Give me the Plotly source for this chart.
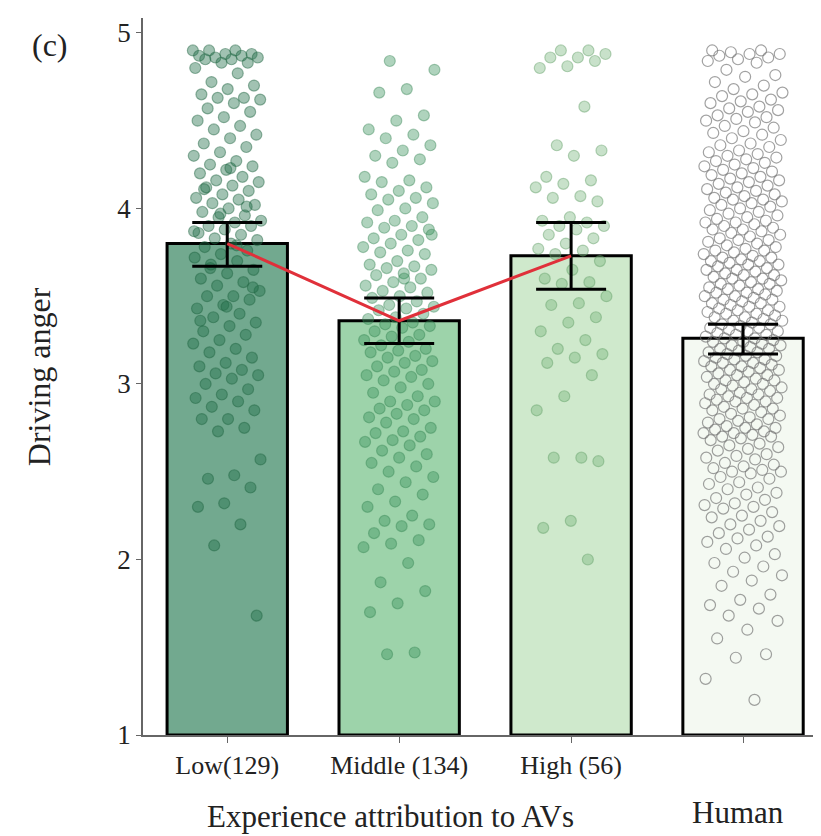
import numpy as np
import plotly.graph_objects as go

# ---------------- data ----------------
categories = ["Low(129)", "Middle (134)", "High (56)", ""]
means = [3.80, 3.36, 3.73, 3.26]
ci_low = [3.67, 3.23, 3.54, 3.17]
ci_high = [3.92, 3.49, 3.92, 3.34]

low_pts = [4.9, 4.9, 4.9, 4.88, 4.88, 4.87, 4.87, 4.86, 4.86, 4.85, 4.85, 4.83, 4.83, 4.8,
           4.77, 4.72, 4.7, 4.68, 4.65, 4.63, 4.63, 4.62, 4.6, 4.57, 4.55, 4.52, 4.5,
           4.47, 4.45, 4.42, 4.4, 4.37, 4.35, 4.32, 4.3, 4.27, 4.25, 4.24, 4.22, 4.2,
           4.18, 4.16, 4.15, 4.13, 4.12, 4.1, 4.08, 4.06, 4.05, 4.03, 4.02, 4.0,
           3.98, 3.96, 3.95, 3.93, 3.92, 3.9, 3.9, 3.88, 3.86, 3.85, 3.83, 3.82, 3.8,
           3.78, 3.76, 3.74, 3.72, 3.7, 3.68, 3.65, 3.63, 3.6, 3.58, 3.56, 3.53, 3.5, 3.5,
           3.48, 3.45, 3.43, 3.4, 3.38, 3.35, 3.33, 3.3, 3.28, 3.25, 3.23, 3.2,
           3.18, 3.15, 3.12, 3.1, 3.08, 3.06, 3.05, 3.03, 3.0, 2.97, 2.94, 2.92, 2.9,
           2.87, 2.85, 2.8, 2.8, 2.75, 2.73, 2.57, 2.48, 2.46, 2.41, 2.32, 2.3,
           2.2, 2.08, 1.68,
           4.23, 4.11, 4.01, 3.97, 3.87, 3.79, 3.66, 3.55, 3.44, 3.36]

middle_pts = [4.84, 4.79, 4.68, 4.66, 4.53, 4.5, 4.45, 4.42, 4.4, 4.36, 4.33, 4.3, 4.28, 4.26,
              4.18, 4.16, 4.15, 4.12, 4.1, 4.08, 4.06, 4.05, 4.03, 4.0, 3.99,
              3.95, 3.93, 3.92, 3.9, 3.89, 3.88, 3.85, 3.83, 3.82, 3.8, 3.78, 3.76, 3.75, 3.74,
              3.7, 3.68, 3.67, 3.66, 3.65, 3.63, 3.62, 3.6, 3.58, 3.56, 3.55, 3.53, 3.52, 3.5, 3.49,
              3.47, 3.45, 3.44, 3.43, 3.42, 3.4, 3.38, 3.37, 3.35, 3.34, 3.33, 3.32, 3.3, 3.28, 3.27,
              3.25, 3.24, 3.22, 3.2, 3.19, 3.18, 3.16, 3.15, 3.13, 3.12, 3.1, 3.08, 3.07, 3.05,
              3.04, 3.02, 3.0,
              2.98, 2.95, 2.93, 2.9, 2.9, 2.88, 2.86, 2.85, 2.83, 2.81, 2.8, 2.78,
              2.75, 2.73, 2.72, 2.7, 2.68, 2.67, 2.65, 2.62, 2.6, 2.58,
              2.55, 2.53, 2.5, 2.47, 2.44, 2.4, 2.37, 2.33, 2.3,
              2.25, 2.22, 2.2, 2.19, 2.15, 2.11, 2.09, 2.07,
              1.98, 1.87, 1.82, 1.75, 1.7, 1.47, 1.46, 3.85, 3.6]

high_pts = [4.9, 4.9, 4.88, 4.86, 4.86, 4.84, 4.81, 4.8,
            4.58, 4.36, 4.33, 4.3,
            4.18, 4.16, 4.14, 4.12, 4.07, 4.06, 4.04,
            3.95, 3.93, 3.92, 3.9, 3.9, 3.88,
            3.85, 3.83, 3.8, 3.77, 3.76, 3.74, 3.7,
            3.65, 3.6, 3.58, 3.57, 3.5, 3.46, 3.45,
            3.38, 3.35, 3.3, 3.25, 3.2, 3.17, 3.15, 3.12, 3.05,
            2.93, 2.85, 2.58, 2.58, 2.56, 2.22, 2.18, 2.0]

human_pts = [4.9, 4.9, 4.89, 4.88, 4.88, 4.87, 4.86, 4.85, 4.84, 4.83,
             4.79, 4.76, 4.75, 4.72, 4.7,
             4.68, 4.66, 4.65, 4.64, 4.62, 4.61, 4.6, 4.58, 4.57, 4.56, 4.55, 4.53, 4.52, 4.51, 4.5,
             4.49, 4.47, 4.46, 4.44, 4.43, 4.42, 4.4, 4.39, 4.37, 4.36, 4.35, 4.33, 4.32, 4.31, 4.3,
             4.29, 4.28, 4.27, 4.26, 4.25, 4.24, 4.23, 4.22, 4.21, 4.2, 4.19, 4.18, 4.17, 4.16,
             4.15, 4.14, 4.13, 4.12, 4.11, 4.1,
             4.09, 4.08, 4.07, 4.06, 4.05, 4.05, 4.04, 4.03, 4.02, 4.01, 4.0, 3.99, 3.98, 3.97,
             3.96, 3.95, 3.94, 3.93, 3.92, 3.92, 3.91, 3.9,
             3.89, 3.88, 3.88, 3.87, 3.86, 3.85, 3.84, 3.83, 3.82, 3.82, 3.81, 3.8, 3.79, 3.78,
             3.77, 3.76, 3.76, 3.75, 3.74, 3.73, 3.72, 3.72, 3.71, 3.7, 3.7,
             3.69, 3.68, 3.68, 3.67, 3.66, 3.65, 3.65, 3.64, 3.63, 3.62, 3.62, 3.61, 3.6, 3.6,
             3.59, 3.58, 3.57, 3.57, 3.56, 3.55, 3.54, 3.54, 3.53, 3.52, 3.52, 3.51, 3.5, 3.5,
             3.49, 3.48, 3.48, 3.47, 3.46, 3.46, 3.45, 3.44, 3.44, 3.43, 3.42, 3.42, 3.41, 3.4, 3.4,
             3.39, 3.38, 3.38, 3.37, 3.36, 3.36, 3.35, 3.34, 3.34, 3.33, 3.32, 3.32, 3.31, 3.3, 3.3,
             3.29, 3.28, 3.28, 3.27, 3.26, 3.26, 3.25, 3.24, 3.24, 3.23, 3.22, 3.22, 3.21, 3.2, 3.2,
             3.19, 3.18, 3.18, 3.17, 3.16, 3.16, 3.15, 3.14, 3.14, 3.13, 3.12, 3.12, 3.11, 3.1, 3.1,
             3.09, 3.08, 3.08, 3.07, 3.06, 3.05, 3.05, 3.04, 3.03, 3.02, 3.02, 3.01, 3.0, 3.0,
             2.99, 2.98, 2.97, 2.97, 2.96, 2.95, 2.94, 2.94, 2.93, 2.92, 2.92, 2.91, 2.9, 2.9,
             2.89, 2.88, 2.87, 2.86, 2.86, 2.85, 2.84, 2.83, 2.82, 2.81, 2.8, 2.8, 2.79,
             2.78, 2.77, 2.76, 2.75, 2.75, 2.74, 2.73, 2.72, 2.72, 2.71, 2.7, 2.7,
             2.69, 2.68, 2.66, 2.65, 2.64, 2.63, 2.62, 2.6, 2.59, 2.58, 2.57, 2.55, 2.54, 2.53,
             2.52, 2.51, 2.5, 2.5,
             2.49, 2.47, 2.46, 2.44, 2.43, 2.41, 2.4, 2.38, 2.37, 2.35, 2.34, 2.32, 2.31, 2.3,
             2.29, 2.27, 2.25, 2.24, 2.22, 2.2, 2.19, 2.17, 2.15, 2.13, 2.12, 2.1,
             2.08, 2.06, 2.03, 2.01, 1.98, 1.96, 1.93, 1.91,
             1.88, 1.85, 1.8, 1.77, 1.74, 1.72,
             1.68, 1.65, 1.6, 1.55,
             1.46, 1.44, 1.32, 1.2]

groups = [low_pts, middle_pts, high_pts, human_pts]

# ---------------- style ----------------
bar_colors = ["#72a98f", "#9dd3aa", "#cfe9cc", "#f4f9f2"]
pt_fill = ["rgba(30,110,72,0.42)", "rgba(55,145,90,0.40)", "rgba(110,175,115,0.38)", "rgba(0,0,0,0)"]
pt_line = ["rgba(30,100,65,0.45)", "rgba(50,130,80,0.40)", "rgba(100,160,105,0.45)", "rgba(110,110,110,0.65)"]
jit_w = [0.20, 0.21, 0.21, 0.23]
serif = "Liberation Serif, Times New Roman, serif"

xpos = list(range(len(categories)))

fig = go.Figure()
fig.add_trace(go.Bar(
    x=xpos, y=[m - 1 for m in means], base=1, width=0.7,
    marker=dict(color=bar_colors, line=dict(color="black", width=3)),
    hoverinfo="skip", showlegend=False))

phi = 0.6180339887
for gi, pts in enumerate(groups):
    n = len(pts)
    jit = [jit_w[gi] * (2 * (((k * phi) + 0.37 * gi) % 1.0) - 1) for k in range(n)]
    fig.add_trace(go.Scatter(
        x=[xpos[gi] + j for j in jit], y=pts, mode="markers",
        marker=dict(size=11, color=pt_fill[gi], line=dict(color=pt_line[gi], width=1.2)),
        showlegend=False, hoverinfo="skip"))

fig.add_trace(go.Scatter(
    x=xpos, y=means, mode="markers",
    marker=dict(size=1, color="rgba(0,0,0,0)"),
    error_y=dict(type="data", symmetric=False,
                 array=[h - m for h, m in zip(ci_high, means)],
                 arrayminus=[m - l for m, l in zip(means, ci_low)],
                 color="black", thickness=3, width=35),
    showlegend=False, hoverinfo="skip"))

fig.add_trace(go.Scatter(
    x=xpos[:3], y=means[:3], mode="lines",
    line=dict(color="#e0303a", width=3),
    showlegend=False, hoverinfo="skip"))

fig.update_layout(
    width=821, height=836,
    margin=dict(l=135, r=0, t=10, b=109),
    paper_bgcolor="white", plot_bgcolor="white",
    font=dict(family=serif, color="#222"),
    xaxis=dict(range=[-0.49, 3.5], tickvals=xpos, ticktext=categories,
               showgrid=False, zeroline=False, showline=True, linecolor="#666", linewidth=1.5,
               ticks="outside", ticklen=6, tickcolor="#666",
               tickfont=dict(family=serif, size=26, color="#222")),
    yaxis=dict(range=[1, 5.085], tickvals=[1, 2, 3, 4, 5],
               showgrid=False, zeroline=False, showline=True, linecolor="#666", linewidth=1.5,
               ticks="outside", ticklen=5, tickcolor="#666",
               tickfont=dict(family=serif, size=27, color="#222")),
)

fig.add_annotation(text="Driving anger", xref="paper", yref="paper", x=-0.152, y=0.50,
                   xanchor="center", yanchor="middle", textangle=-90, showarrow=False,
                   font=dict(family=serif, size=32, color="#222"))
fig.add_annotation(text="Experience attribution to AVs", xref="x", yref="paper", x=0.95, y=-0.113,
                   xanchor="center", yanchor="middle", showarrow=False,
                   font=dict(family=serif, size=31, color="#222"))
fig.add_annotation(text="Human", xref="x", yref="paper", x=2.97, y=-0.108,
                   xanchor="center", yanchor="middle", showarrow=False,
                   font=dict(family=serif, size=31, color="#222"))
fig.add_annotation(text="(c)", xref="paper", yref="paper", x=-0.135, y=0.962,
                   xanchor="center", yanchor="middle", showarrow=False,
                   font=dict(family=serif, size=32, color="#222"))

fig.write_html("out.html")
